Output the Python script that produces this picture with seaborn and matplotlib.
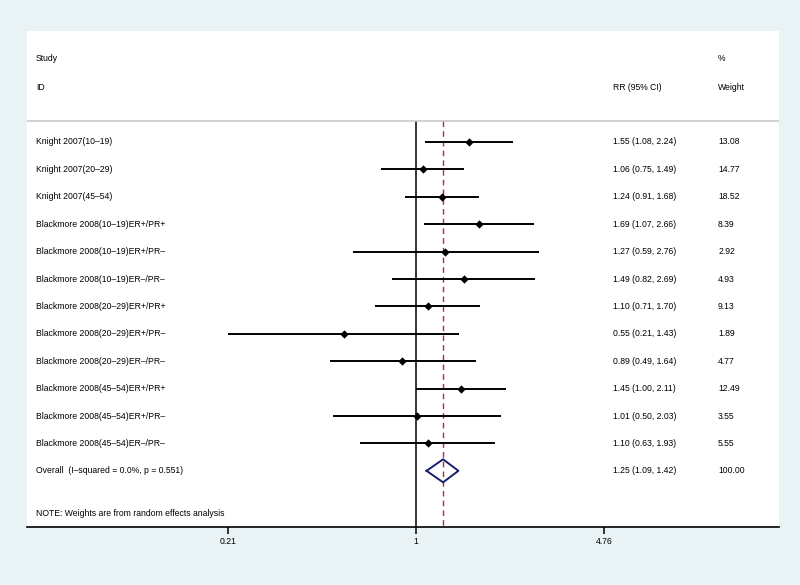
import numpy as np
import pandas as pd
import matplotlib
matplotlib.use("Agg")
import matplotlib.pyplot as plt
import seaborn as sns

# Study rows
studies = ["Knight 2007(10–19)", "Knight 2007(20–29)", "Knight 2007(45–54)",
           "Blackmore 2008(10–19)ER+/PR+", "Blackmore 2008(10–19)ER+/PR–",
           "Blackmore 2008(10–19)ER–/PR–", "Blackmore 2008(20–29)ER+/PR+",
           "Blackmore 2008(20–29)ER+/PR–", "Blackmore 2008(20–29)ER–/PR–",
           "Blackmore 2008(45–54)ER+/PR+", "Blackmore 2008(45–54)ER+/PR–",
           "Blackmore 2008(45–54)ER–/PR–"]
rr = [1.55, 1.06, 1.24, 1.69, 1.27, 1.49, 1.10, 0.55, 0.89, 1.45, 1.01, 1.10]
ci_low = [1.08, 0.75, 0.91, 1.07, 0.59, 0.82, 0.71, 0.21, 0.49, 1.00, 0.50, 0.63]
ci_high = [2.24, 1.49, 1.68, 2.66, 2.76, 2.69, 1.70, 1.43, 1.64, 2.11, 2.03, 1.93]
weights = [13.08, 14.77, 18.52, 8.39, 2.92, 4.93, 9.13, 1.89, 4.77, 12.49, 3.55, 5.55]

overall_label = "Overall  (I–squared = 0.0%, p = 0.551)"
overall_rr, overall_lo, overall_hi = 1.25, 1.09, 1.42
tick_values = [0.21, 1, 4.76]

df = pd.DataFrame({"study": studies, "rr": rr, "lo": ci_low, "hi": ci_high,
                   "weight": weights, "row": np.arange(len(studies))})

bg = "#e9f2f5"
fs = 6.2
plt.rcParams["font.family"] = ["Liberation Sans", "DejaVu Sans"]

fig = plt.figure(figsize=(8, 5.85), dpi=100, facecolor=bg)
ax = fig.add_axes([27 / 800, 1 - 527 / 585, 752 / 800, 496 / 585])
ax.set_facecolor("white")

ax.set_xscale("log")
ax.set_xlim(0.0396, 20.3)
ax.set_ylim(14.05, -4.05)

# CI lines and point estimates
ax.hlines(df["row"], df["lo"], df["hi"], color="black", lw=1.4, zorder=3)
sns.scatterplot(data=df, x="rr", y="row", marker="D", color="black", s=18,
                edgecolor="black", linewidth=0, ax=ax, zorder=4, legend=False)

# overall diamond
orow = len(studies)
ax.plot([overall_lo, overall_rr, overall_hi, overall_rr, overall_lo],
        [orow, orow - 0.42, orow, orow + 0.42, orow], color="#1a1f6b", lw=1.4, zorder=4)

# reference lines
ax.vlines(1, -0.77, 14.05, color="black", lw=1.1, zorder=2)
ax.vlines(overall_rr, -0.77, 14.05, color="#b8283c", lw=1.0, ls=(0, (4, 3)), zorder=2)

# separator below header
ax.axhline(-0.77, color="#c8c8c8", lw=1.2)

tr = ax.get_yaxis_transform()
x_lab, x_rr, x_w = 0.012, 0.779, 0.919
ax.text(x_lab, -3.03, "Study", transform=tr, fontsize=fs, va="center")
ax.text(x_lab, -2.0, "ID", transform=tr, fontsize=fs, va="center")
ax.text(x_rr, -2.0, "RR (95% CI)", transform=tr, fontsize=fs, va="center")
ax.text(x_w, -3.03, "%", transform=tr, fontsize=fs, va="center")
ax.text(x_w, -2.0, "Weight", transform=tr, fontsize=fs, va="center")

for i in range(len(studies)):
    ax.text(x_lab, i, studies[i], transform=tr, fontsize=fs, va="center")
    ax.text(x_rr, i, f"{rr[i]:.2f} ({ci_low[i]:.2f}, {ci_high[i]:.2f})",
            transform=tr, fontsize=fs, va="center")
    ax.text(x_w, i, f"{weights[i]:.2f}", transform=tr, fontsize=fs, va="center")

ax.text(x_lab, orow, overall_label, transform=tr, fontsize=fs, va="center")
ax.text(x_rr, orow, f"{overall_rr:.2f} ({overall_lo:.2f}, {overall_hi:.2f})",
        transform=tr, fontsize=fs, va="center")
ax.text(x_w, orow, "100.00", transform=tr, fontsize=fs, va="center")
ax.text(x_lab, 13.54, "NOTE: Weights are from random effects analysis",
        transform=tr, fontsize=fs, va="center")

# axes styling
for side in ["left", "top", "right"]:
    ax.spines[side].set_visible(False)
ax.spines["bottom"].set_color("black")
ax.spines["bottom"].set_linewidth(1.2)
ax.set_yticks([])
ax.set_xticks(tick_values)
ax.set_xticks([], minor=True)
ax.set_xticklabels(["0.21", "1", "4.76"])
ax.tick_params(axis="x", direction="out", length=5, width=1.1, labelsize=fs, pad=2.5)
ax.set_xlabel("")
ax.set_ylabel("")

fig.savefig("out.png", dpi=100, facecolor=bg)
